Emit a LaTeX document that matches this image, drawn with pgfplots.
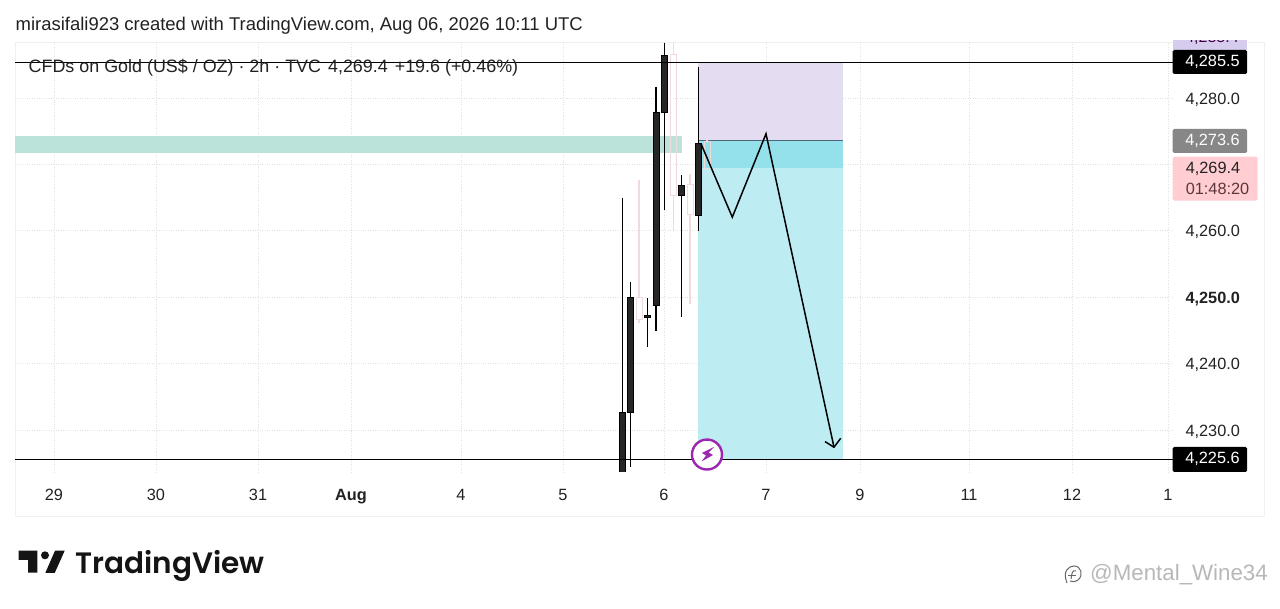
\documentclass[border=0pt]{standalone}
\usepackage{pgfplots}
\pgfplotsset{compat=1.18}
\usepackage{fontspec}
\setmainfont{Liberation Sans}
\newfontfamily\tvfont{Poppins SemiBold}
\definecolor{grd}{HTML}{E2E2E2}
\definecolor{pale}{HTML}{EFDADC}
\definecolor{cand}{HTML}{262626}
\definecolor{txt}{HTML}{222222}
% x, body top, body bottom, high, low
\newcommand\cnd[5]{%
 \addplot[black,line width=1.3pt,forget plot] coordinates {(#1,#4)(#1,#5)};
 \addplot[draw=black,fill=cand,line width=0.6pt,forget plot] coordinates {(#1-3,#2)(#1+3,#2)(#1+3,#3)(#1-3,#3)} -- cycle;
}
\newcommand\pal[5]{%
 \addplot[pale,line width=1.2pt,forget plot] coordinates {(#1,#4)(#1,#2)};
 \addplot[pale,line width=1.2pt,forget plot] coordinates {(#1,#3)(#1,#5)};
 \addplot[draw=pale,fill=none,line width=0.8pt,forget plot] coordinates {(#1-3,#2)(#1+3,#2)(#1+3,#3)(#1-3,#3)} -- cycle;
}
\begin{document}
\begin{tikzpicture}[x=1pt,y=1pt]
\path[use as bounding box] (0,0) rectangle (1280,609);
\fill[white] (0,0) rectangle (1280,609);
\draw[color=black!6,line width=0.8pt] (15.5,93) rectangle (1264.5,567);
\begin{axis}[
 at={(15pt,137pt)},anchor=south west,scale only axis,
 width=1158pt,height=430pt,
 xmin=15,xmax=1173,ymin=4223.67,ymax=4288.43,
 axis line style={draw=none},tick style={draw=none},
 xtick={54,156,258,351,461,563,664,766,860,969,1072,1168},
 xticklabels={29,30,31,\textbf{Aug},4,5,6,7,9,11,12,1},
 ytick={4230,4240,4250,4260,4270,4280},
 yticklabels={{4,230.0},{4,240.0},{\textbf{4,250.0}},{4,260.0},{},{4,280.0}},
 yticklabel pos=right,
 yticklabel style={anchor=west,font=\fontsize{16.3}{16}\selectfont,text=txt,xshift=9pt,yshift=-1.5pt},
 xticklabel style={font=\fontsize{16.3}{16}\selectfont,text=txt,yshift=-14pt},
 grid=major,grid style={grd,dotted,line width=0.9pt},
 clip=true,
]
% zones
\addplot[draw=none,fill={rgb,255:red,227;green,220;blue,241},fill opacity=0.95,forget plot] coordinates {(698,4285.4)(843,4285.4)(843,4273.6)(698,4273.6)} -- cycle;
\addplot[draw=none,fill={rgb,255:red,143;green,224;blue,234},fill opacity=0.95,forget plot] coordinates {(698,4273.6)(843,4273.6)(843,4269.4)(698,4269.4)} -- cycle;
\addplot[draw=none,fill={rgb,255:red,186;green,237;blue,242},fill opacity=0.95,forget plot] coordinates {(698,4269.4)(843,4269.4)(843,4225.6)(698,4225.6)} -- cycle;
\addplot[draw=none,fill={rgb,255:red,187;green,227;blue,218},forget plot] coordinates {(15,4274.2)(682,4274.2)(682,4271.7)(15,4271.7)} -- cycle;
\addplot[black!60!cyan,line width=0.6pt,forget plot] coordinates {(698,4273.6)(843,4273.6)};
% candles
\pal{639}{4250}{4246.7}{4267.65}{4246.16}
\pal{673.3}{4286.5}{4265.4}{4288.43}{4260.1}
\pal{690}{4267.05}{4262.4}{4268.55}{4248.98}
\pal{707}{4273.5}{4269.4}{4273.6}{4269.4}
\cnd{622.3}{4232.6}{4223}{4265.0}{4223}
\cnd{630.7}{4250.0}{4232.6}{4252.3}{4224.4}
\cnd{647.5}{4247.3}{4246.9}{4249.8}{4242.55}
\cnd{656}{4277.8}{4248.7}{4281.7}{4244.95}
\cnd{664.7}{4286.5}{4277.8}{4288.3}{4263.13}
\cnd{681.7}{4266.9}{4265.4}{4268.4}{4247.0}
\cnd{698.7}{4273.1}{4262.4}{4284.7}{4260.0}
% level lines
\addplot[black,line width=1pt,forget plot] coordinates {(15,4285.4)(1173,4285.4)};
\addplot[black,line width=1pt,forget plot] coordinates {(15,4225.6)(1173,4225.6)};
% zigzag and arrow
\addplot[black,line width=1.5pt,forget plot] coordinates {(701,4273.1)(732.3,4262.05)(766,4274.6)(834,4227.4)};
\addplot[black,line width=1.5pt,forget plot] coordinates {(825,4228.25)(834,4227.4)(840.7,4228.75)};
% event marker
\addplot[only marks,mark=*,mark size=15pt,mark options={draw={rgb,255:red,156;green,39;blue,176},fill=white,line width=2.4pt},forget plot] coordinates {(707,4226.3)};
\end{axis}
\fill[fill={rgb,255:red,156;green,39;blue,176}] (714,162) -- (702,156) -- (706,153.5) -- (701.5,147.5) -- (713,154) -- (708.5,156.5) -- cycle;
% title
\node[anchor=west,inner sep=0,text=txt] at (15.5,583.5) {\fontsize{18.46}{18}\selectfont mirasifali923 created with TradingView.com, Aug 06, 2026 10:11 UTC};
\node[anchor=west,inner sep=0,text=txt] at (28.5,541.5) {\fontsize{17.9}{18}\selectfont CFDs on Gold (US\$ / OZ) · 2h · TVC\hspace{7pt}4,269.4\hspace{7pt}+19.6 (+0.46\%)};
% price labels
\begin{scope}
\clip (1172.7,559) rectangle (1247,568);
\fill[fill={rgb,255:red,214;green,204;blue,238}] (1172.7,550) rectangle (1247,570);
\node[text=black!45!violet,anchor=center] at (1212,571.5) {\fontsize{16}{16}\selectfont 4,288.4};
\end{scope}
\fill[black,rounded corners=1.5pt] (1172.7,535) rectangle (1247,559);
\node[text=white] at (1212.5,547.5) {\fontsize{16.3}{16}\selectfont 4,285.5};
\fill[black!47,rounded corners=1.5pt] (1172.7,456) rectangle (1247,480);
\node[text=white] at (1212.5,468.5) {\fontsize{16.3}{16}\selectfont 4,273.6};
\fill[fill={rgb,255:red,255;green,205;blue,210},rounded corners=1.5pt] (1172.7,408.3) rectangle (1257.7,452.3);
\node[text=txt] at (1213,440.5) {\fontsize{16.3}{16}\selectfont 4,269.4};
\node[text={rgb,255:red,90;green,55;blue,60}] at (1217.5,420.5) {\fontsize{16.3}{16}\selectfont 01:48:20};
\fill[black,rounded corners=1.5pt] (1172.7,137) rectangle (1247,162);
\node[text=white] at (1212.5,150.5) {\fontsize{16.3}{16}\selectfont 4,225.6};
% logo
\fill[black!92] (18.7,58.3) -- (37.3,58.3) -- (37.3,36.3) -- (28,36.3) -- (28,49) -- (18.7,49) -- cycle;
\fill[black!92] (45,53.7) circle (4);
\fill[black!92] (55,58.3) -- (64.7,58.3) -- (54.7,36) -- (45.3,36) -- cycle;
\node[anchor=west,inner sep=0,text=black!92] at (75.5,43.5) {\tvfont\fontsize{29.5}{30}\selectfont TradingView};
% watermark
\node[anchor=west,inner sep=0,text=black!28] at (1090,34.5) {\fontsize{22.3}{23}\selectfont @Mental\_Wine34};
\draw[black!60,line width=1pt] (1067,26) .. controls (1062,38) and (1069,43) .. (1074,43) .. controls (1081,43) and (1084,34) .. (1078,29) .. controls (1075,27) and (1072,27) .. (1070,28);
\draw[black!60,line width=1pt] (1076,38) .. controls (1072,39) and (1072,36) .. (1071,30);
\draw[black!60,line width=0.9pt] (1068,34) -- (1076,34);
\end{tikzpicture}
\end{document}
